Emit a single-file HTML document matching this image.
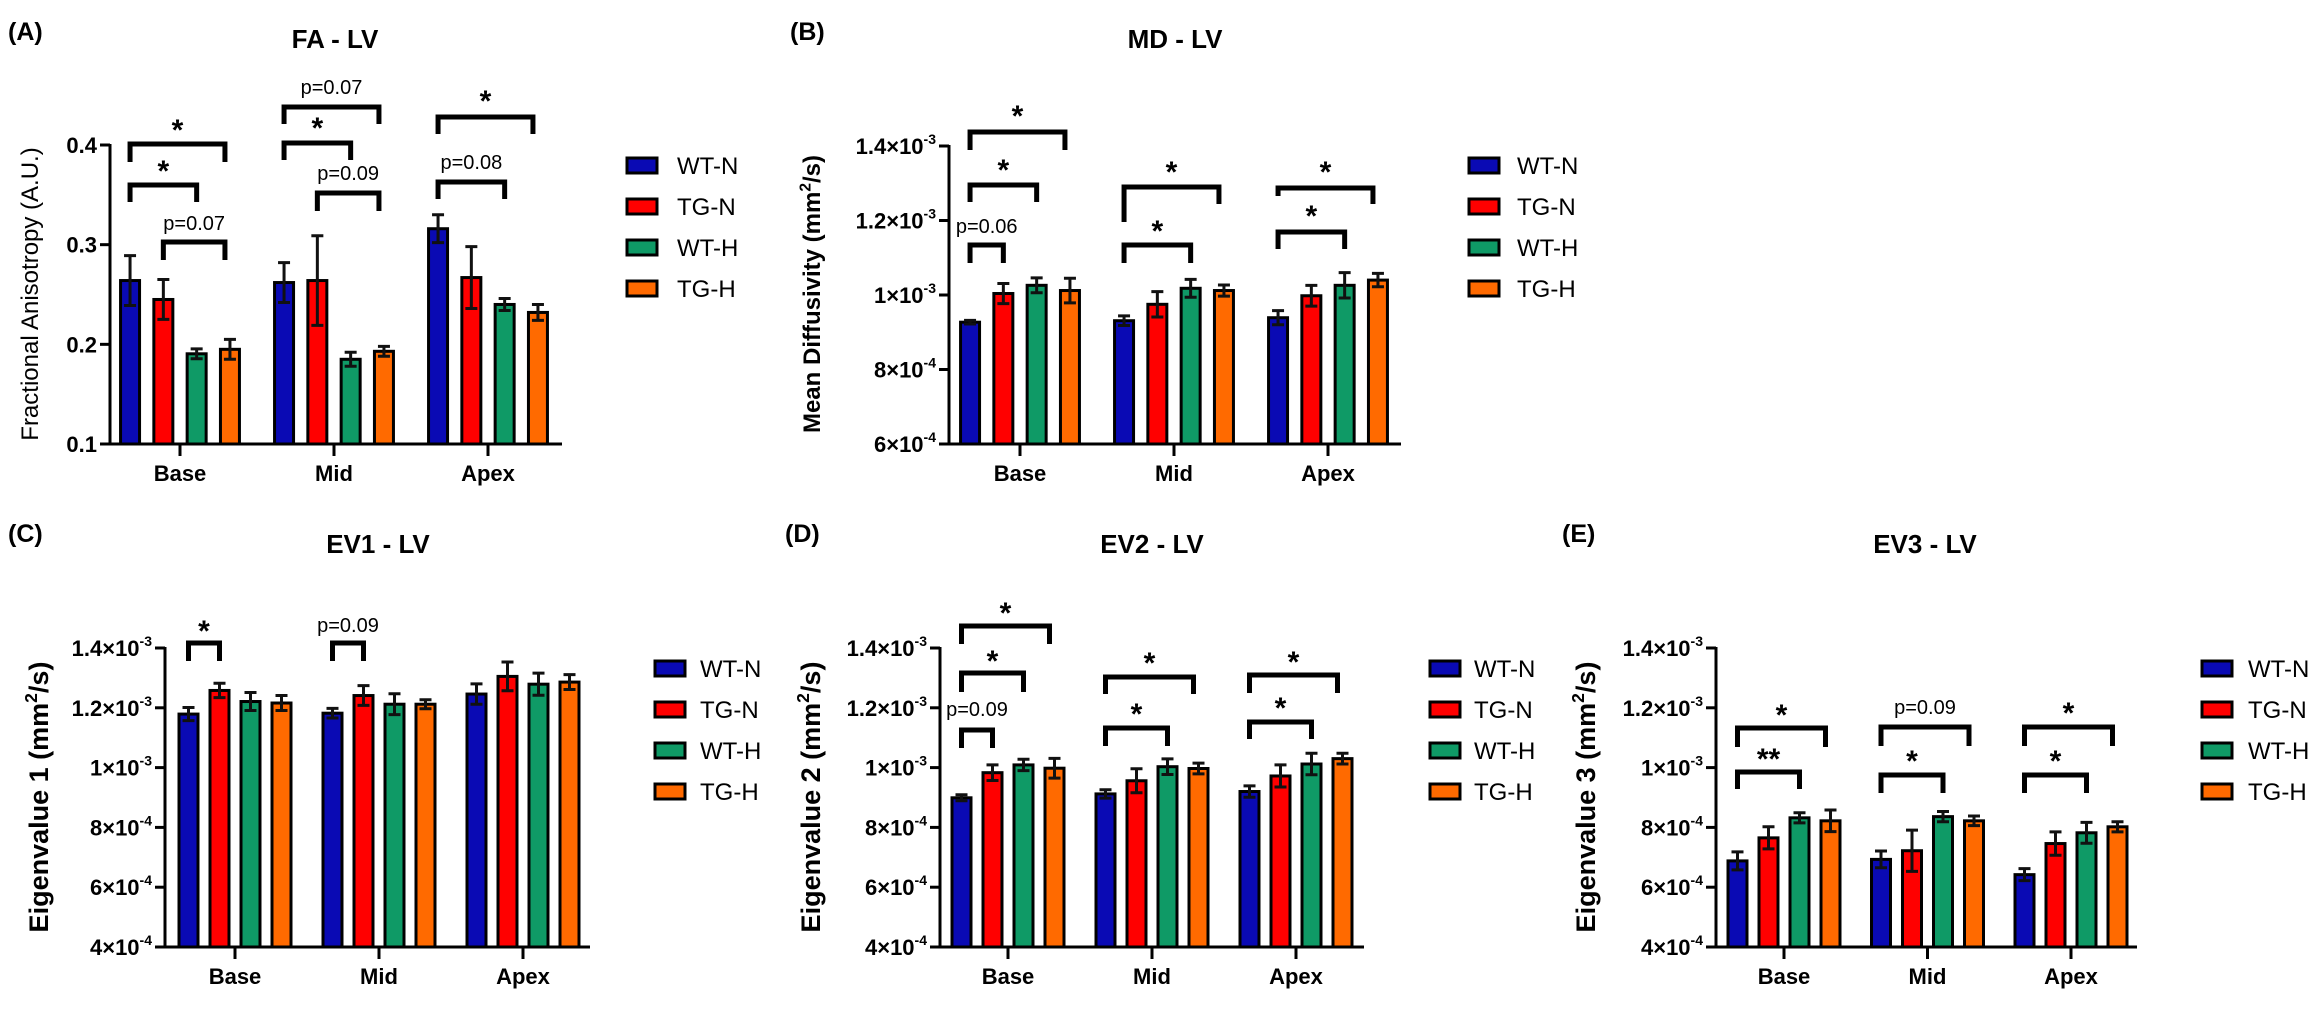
<!DOCTYPE html>
<html><head><meta charset="utf-8"><style>
html,body{margin:0;padding:0;background:#fff;}
svg{display:block;font-family:"Liberation Sans",Arial,sans-serif;}
</style></head><body>
<svg id="fig" width="2324" height="1009" viewBox="0 0 2324 1009" xmlns="http://www.w3.org/2000/svg"></svg>
<script>
// ---- data ----
const categories = ["Base","Mid","Apex"];
const groups = ["WT-N","TG-N","WT-H","TG-H"];
const colors = ["#0a0ab4","#ff0000","#0f9a66","#ff6a00"];

// FA (A.U.)
const faMean = [[0.264,0.245,0.1905,0.195],[0.262,0.264,0.185,0.193],[0.316,0.267,0.240,0.232]];
const faErr  = [[0.025,0.020,0.005,0.010],[0.020,0.045,0.007,0.005],[0.014,0.031,0.006,0.008]];
// MD (x1e-4 mm2/s)
const mdMean = [[9.27,10.04,10.26,10.12],[9.31,9.75,10.18,10.12],[9.39,9.98,10.26,10.40]];
const mdErr  = [[0.05,0.27,0.20,0.33],[0.13,0.34,0.24,0.15],[0.19,0.28,0.34,0.18]];
// EV1 (x1e-4)
const ev1Mean = [[11.79,12.58,12.21,12.16],[11.82,12.41,12.12,12.12],[12.46,13.05,12.79,12.86]];
const ev1Err  = [[0.22,0.24,0.30,0.25],[0.16,0.33,0.35,0.15],[0.34,0.48,0.37,0.25]];
// EV2 (x1e-4)
const ev2Mean = [[8.99,9.83,10.09,9.98],[9.12,9.56,10.03,9.97],[9.20,9.72,10.12,10.30]];
const ev2Err  = [[0.10,0.26,0.19,0.33],[0.14,0.40,0.26,0.18],[0.19,0.37,0.36,0.18]];
// EV3 (x1e-4)
const ev3Mean = [[6.88,7.65,8.32,8.22],[6.93,7.22,8.36,8.22],[6.42,7.46,7.82,8.02]];
const ev3Err  = [[0.30,0.37,0.17,0.36],[0.28,0.69,0.17,0.16],[0.20,0.39,0.35,0.17]];

const faTicks = [0.1,0.2,0.3,0.4];
const faTickLabels = ["0.1","0.2","0.3","0.4"];
const mdTicks = [6,8,10,12,14];
const mdTickLabels = [["6×10","-4"],["8×10","-4"],["1×10","-3"],["1.2×10","-3"],["1.4×10","-3"]];
const evTicks = [4,6,8,10,12,14];
const evTickLabels = [["4×10","-4"],["6×10","-4"],["8×10","-4"],["1×10","-3"],["1.2×10","-3"],["1.4×10","-3"]];

// significance annotations: [category, barFrom, barTo, lineY, leftLegY, rightLegY, label, labelY]
const faSig = [[0,0,2,185,202,202,"*",167],[0,0,3,144,162,162,"*",126],[0,1,3,242,260,260,"p=0.07",223],
  [1,0,3,107,124,124,"p=0.07",87],[1,0,2,143,160,160,"*",124],[1,1,3,193,211,211,"p=0.09",173],
  [2,0,3,117,134,134,"*",97],[2,0,2,182,199,199,"p=0.08",162]];
const mdSig = [[0,0,1,245,263,263,"p=0.06",226],[0,0,2,185,202,202,"*",166],[0,0,3,132,150,150,"*",112],
  [1,0,2,245,263,263,"*",227],[1,0,3,187,222,204,"*",168],
  [2,0,2,232,249,249,"*",212],[2,0,3,188,196,204,"*",168]];
const ev1Sig = [[0,0,1,643,661,661,"*",627],[1,0,1,643,661,661,"p=0.09",625]];
const ev2Sig = [[0,0,1,730,748,748,"p=0.09",709],[0,0,2,673,692,692,"*",657],[0,0,3,626,644,644,"*",609],
  [1,0,2,728,746,746,"*",710],[1,0,3,677,694,694,"*",659],
  [2,0,2,722,739,739,"*",704],[2,0,3,675,693,693,"*",658]];
const ev3Sig = [[0,0,2,772,789,789,"**",755],[0,0,3,728,747,747,"*",711],
  [1,0,2,775,793,793,"*",757],[1,0,3,727,746,746,"p=0.09",707],
  [2,0,2,775,793,793,"*",757],[2,0,3,727,746,746,"*",709]];

const NS="http://www.w3.org/2000/svg";
const svg=document.getElementById('fig');
function mk(tag,attrs,parent){const e=document.createElementNS(NS,tag);for(const k in attrs)e.setAttribute(k,attrs[k]);(parent||svg).appendChild(e);return e;}

const panels=[
 {id:"a",letter:"(A)",lx:8,ly:40,title:"FA - LV",tx:335,ty:48,ax:110,right:562,base:444,top:145,min:0.1,max:0.4,
  first:70,pitch:154,step:33.3,bw:19,mean:faMean,err:faErr,ticks:faTicks,tl:faTickLabels,sig:faSig,
  ytitle:"Fractional Anisotropy (A.U.)",ytBold:false,ytSize:24,ytx:38,yty:294,legX:627,legTX:677,legY:165,catY:481},
 {id:"b",letter:"(B)",lx:790,ly:40,title:"MD - LV",tx:1175,ty:48,ax:949,right:1401,base:444,top:146,min:6,max:14,
  first:71,pitch:154,step:33.3,bw:19,mean:mdMean,err:mdErr,ticks:mdTicks,tl:mdTickLabels,sig:mdSig,
  ytitle:"Mean Diffusivity (mm²/s)",ytBold:true,ytSize:24,ytx:820,yty:294,legX:1469,legTX:1517,legY:165,catY:481},
 {id:"c",letter:"(C)",lx:8,ly:542,title:"EV1 - LV",tx:378,ty:553,ax:165,right:590,base:947,top:648,min:4,max:14,
  first:70,pitch:144,step:31,bw:19,mean:ev1Mean,err:ev1Err,ticks:evTicks,tl:evTickLabels,sig:ev1Sig,
  ytitle:"Eigenvalue 1 (mm²/s)",ytBold:true,ytSize:27,ytx:48,yty:797,legX:655,legTX:700,legY:668,catY:984},
 {id:"d",letter:"(D)",lx:785,ly:542,title:"EV2 - LV",tx:1152,ty:553,ax:940,right:1364,base:947,top:648,min:4,max:14,
  first:68,pitch:144,step:31,bw:19,mean:ev2Mean,err:ev2Err,ticks:evTicks,tl:evTickLabels,sig:ev2Sig,
  ytitle:"Eigenvalue 2 (mm²/s)",ytBold:true,ytSize:27,ytx:820,yty:797,legX:1430,legTX:1474,legY:668,catY:984},
 {id:"e",letter:"(E)",lx:1562,ly:542,title:"EV3 - LV",tx:1925,ty:553,ax:1716,right:2137,base:947,top:648,min:4,max:14,
  first:68,pitch:143.5,step:31,bw:19,mean:ev3Mean,err:ev3Err,ticks:evTicks,tl:evTickLabels,sig:ev3Sig,
  ytitle:"Eigenvalue 3 (mm²/s)",ytBold:true,ytSize:27,ytx:1595,yty:797,legX:2202,legTX:2248,legY:668,catY:984}
];

panels.forEach(p=>{
  const g=mk('g',{});
  
  
  const y=v=>p.base-(v-p.min)/(p.max-p.min)*(p.base-p.top);
  const cx=(c,i)=>p.ax+p.first+c*p.pitch+(i-1.5)*p.step;

  const L=mk('text',{x:p.lx,y:p.ly,'font-size':25,'font-weight':'bold',fill:'#000'},g);L.textContent=p.letter;
  
  const T=mk('text',{x:p.tx,y:p.ty,'font-size':26,'font-weight':'bold','text-anchor':'middle',fill:'#000'},g);T.textContent=p.title;
  

  // y title
  const yt=mk('text',{x:0,y:0,'font-size':p.ytSize,'font-weight':p.ytBold?'bold':'normal','text-anchor':'middle',
    transform:`translate(${p.ytx},${p.yty}) rotate(-90)`,fill:'#000'},g);
  
  const parts=p.ytitle.split('²');
  if(parts.length>1){yt.appendChild(document.createTextNode(parts[0]));
    const s=mk('tspan',{'font-size':p.ytSize*0.65,dy:-p.ytSize*0.4},yt);s.textContent='2';
    const r=mk('tspan',{dy:p.ytSize*0.4},yt);r.textContent=parts[1];}
  else yt.textContent=p.ytitle;

  // bars
  p.mean.forEach((row,c)=>row.forEach((v,i)=>{
    const x=cx(c,i)-p.bw/2, yy=y(v);
    const r=mk('rect',{x:x,y:yy,width:p.bw,height:p.base-yy,fill:colors[i],stroke:'#000','stroke-width':3},g);
    
    
    const e=p.err[c][i], x0=cx(c,i);
    const eb=mk('path',{d:`M${x0},${y(v-e)}V${y(v+e)}M${x0-6},${y(v+e)}H${x0+6}M${x0-6},${y(v-e)}H${x0+6}`,stroke:'#111','stroke-width':3,fill:'none'},g);
    
  }));

  // axes
  const ya=mk('line',{x1:p.ax,y1:p.top-1,x2:p.ax,y2:p.base,stroke:'#000','stroke-width':3},g);
  
  const xa=mk('line',{x1:p.ax-10,y1:p.base,x2:p.right,y2:p.base,stroke:'#000','stroke-width':3},g);
  
  p.ticks.forEach((t,k)=>{
    const yy=y(t);
    mk('line',{x1:p.ax-10,y1:yy,x2:p.ax,y2:yy,stroke:'#000','stroke-width':3},g);
    const lb=mk('text',{x:p.ax-13,y:yy+8,'font-size':22,'font-weight':'bold','text-anchor':'end',fill:'#000'},g);
    
    const lab=p.tl[k];
    if(Array.isArray(lab)){lb.appendChild(document.createTextNode(lab[0]));
      const s=mk('tspan',{'font-size':14,dy:-10},lb);s.textContent=lab[1];}
    else lb.textContent=lab;
  });
  categories.forEach((c,k)=>{
    const x=p.ax+p.first+k*p.pitch;
    mk('line',{x1:x,y1:p.base,x2:x,y2:p.base+12,stroke:'#000','stroke-width':3},g);
    const t=mk('text',{x:x,y:p.catY,'font-size':22,'font-weight':'bold','text-anchor':'middle',fill:'#000'},g);
    t.textContent=c;
  });

  // significance
  p.sig.forEach(s=>{
    const [c,i,j,ly,l1,l2,lab,labY]=s;
    const x1=cx(c,i), x2=cx(c,j)-(j===3?5:0);
    const b=mk('path',{d:`M${x1},${l1}V${ly}H${x2}V${l2}`,stroke:'#000','stroke-width':5,fill:'none'},g);
    
    const isStar=lab.indexOf('*')>=0;
    const t=mk('text',{x:(x1+x2)/2,y:labY+(isStar?14:7),'font-size':isStar?30:20,'font-weight':isStar?'bold':'normal','text-anchor':'middle',fill:'#000'},g);
    t.textContent=lab;
  });

  // legend
  groups.forEach((n,i)=>{
    const yy=p.legY+i*41;
    const lg=mk('g',{},g);
    
    
    mk('rect',{x:p.legX,y:yy-7,width:30,height:15,fill:colors[i],stroke:'#000','stroke-width':3},lg);
    const t=mk('text',{x:p.legTX,y:yy+9,'font-size':24,fill:'#000'},lg);t.textContent=n;
  });
});
</script>
</body></html>
